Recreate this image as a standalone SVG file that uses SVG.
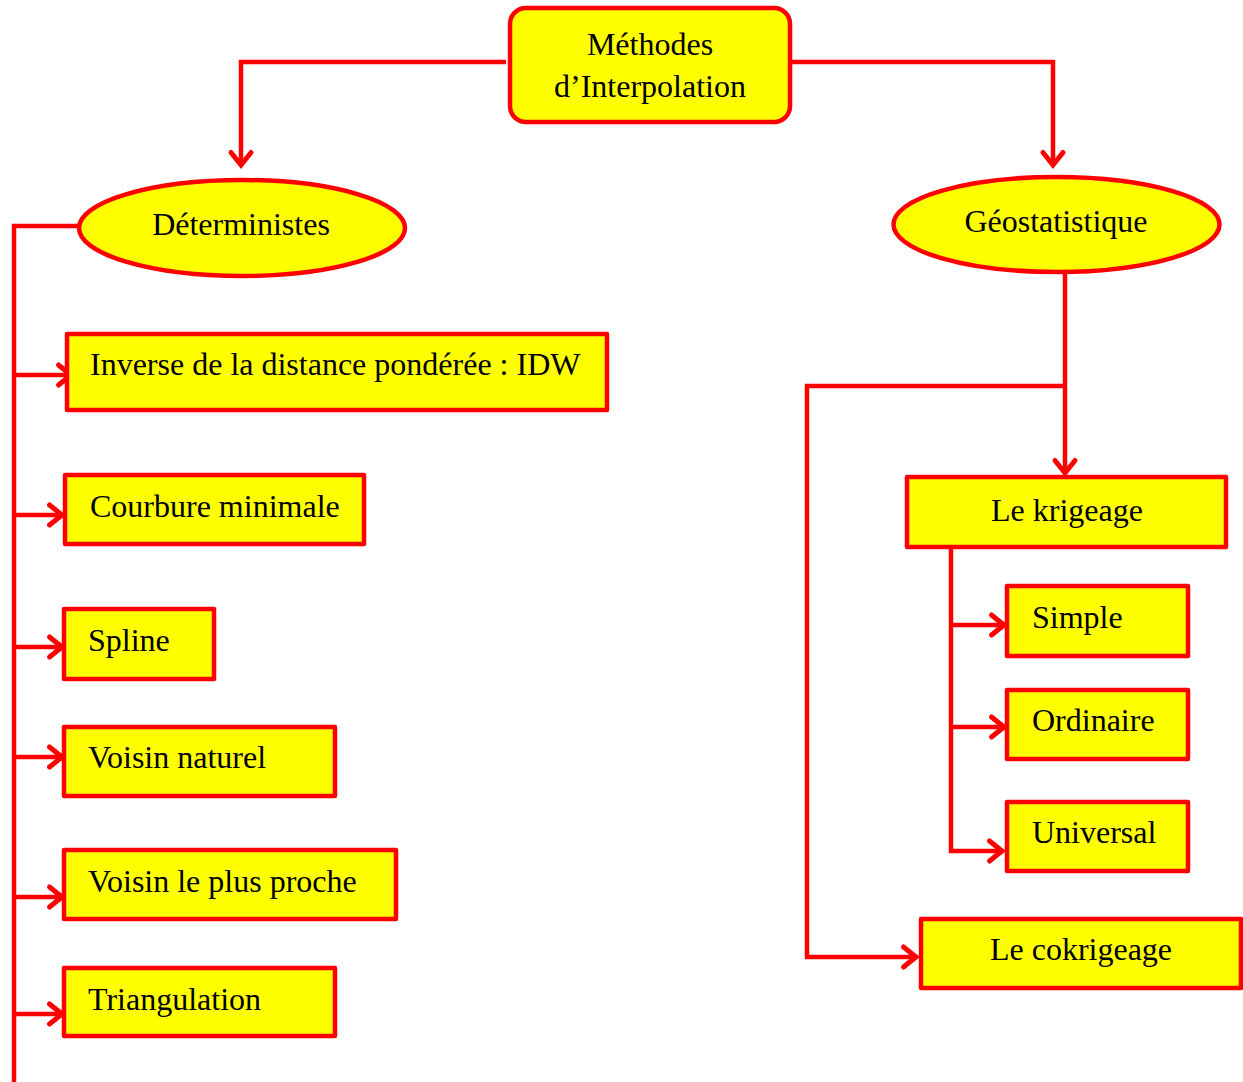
<svg xmlns="http://www.w3.org/2000/svg" width="1243" height="1082" viewBox="0 0 1243 1082">
<style>
.box{fill:#ffff00;stroke:#ff0000;stroke-width:4.5;stroke-linejoin:round}
.ln{fill:none;stroke:#ff0000;stroke-width:4.5}
.t{font-family:"Liberation Serif","Times New Roman",serif;font-size:32px;fill:#000}
.c{text-anchor:middle}
</style>
<defs>
<marker id="ar" markerUnits="userSpaceOnUse" viewBox="-18 -18 36 36" markerWidth="36" markerHeight="36" refX="0" refY="0" orient="auto">
<path d="M-12.5,-10 L0,0 L-12.5,10" fill="none" stroke="#ff0000" stroke-width="5" stroke-linecap="round" stroke-linejoin="miter"/>
</marker>
</defs>
<rect width="1243" height="1082" fill="#ffffff"/>
<g id="connectors">
<path class="ln" d="M506,62 H241 V165" marker-end="url(#ar)"/>
<path class="ln" d="M792,62 H1053 V165" marker-end="url(#ar)"/>
<path class="ln" d="M80,226 H14 V1082"/>
<path class="ln" d="M14,375 H71" marker-end="url(#ar)"/>
<path class="ln" d="M14,515 H62" marker-end="url(#ar)"/>
<path class="ln" d="M14,647 H62" marker-end="url(#ar)"/>
<path class="ln" d="M14,757 H62" marker-end="url(#ar)"/>
<path class="ln" d="M14,897 H62" marker-end="url(#ar)"/>
<path class="ln" d="M14,1014 H62" marker-end="url(#ar)"/>
<path class="ln" d="M1065,272 V473" marker-end="url(#ar)"/>
<path class="ln" d="M1065,386 H807 V957 H916" marker-end="url(#ar)"/>
<path class="ln" d="M951,547 V851 H1002" marker-end="url(#ar)"/>
<path class="ln" d="M951,625 H1004" marker-end="url(#ar)"/>
<path class="ln" d="M951,727 H1004" marker-end="url(#ar)"/>
</g>
<g id="methodes">
<rect class="box" x="510" y="8" width="280" height="114" rx="16"/>
<text class="t c" x="650" y="55">Méthodes</text>
<text class="t c" x="650" y="97">d’Interpolation</text>
</g>
<g id="deterministes">
<ellipse class="box" cx="242" cy="228" rx="163" ry="48"/>
<text class="t c" x="241" y="235">Déterministes</text>
</g>
<g id="geostatistique">
<ellipse class="box" cx="1056.5" cy="224.5" rx="163" ry="47.5"/>
<text class="t c" x="1056" y="232">Géostatistique</text>
</g>
<g id="idw">
<rect class="box" x="67" y="334" width="540" height="76"/>
<text class="t" x="90" y="375">Inverse de la distance pondérée : IDW</text>
</g>
<g id="courbure">
<rect class="box" x="65" y="475" width="299" height="69"/>
<text class="t" x="90" y="517">Courbure minimale</text>
</g>
<g id="spline">
<rect class="box" x="64" y="609" width="150" height="70"/>
<text class="t" x="88" y="651">Spline</text>
</g>
<g id="voisin-naturel">
<rect class="box" x="64" y="727" width="271" height="69"/>
<text class="t" x="88" y="768">Voisin naturel</text>
</g>
<g id="voisin-proche">
<rect class="box" x="64" y="850" width="332" height="69"/>
<text class="t" x="88" y="892">Voisin le plus proche</text>
</g>
<g id="triangulation">
<rect class="box" x="64" y="968" width="271" height="68"/>
<text class="t" x="88" y="1010">Triangulation</text>
</g>
<g id="krigeage">
<rect class="box" x="907" y="477" width="319" height="70"/>
<text class="t c" x="1067" y="521">Le krigeage</text>
</g>
<g id="simple">
<rect class="box" x="1007" y="586" width="181" height="70"/>
<text class="t" x="1032" y="628">Simple</text>
</g>
<g id="ordinaire">
<rect class="box" x="1007" y="690" width="181" height="69"/>
<text class="t" x="1032" y="731">Ordinaire</text>
</g>
<g id="universal">
<rect class="box" x="1007" y="802" width="181" height="69"/>
<text class="t" x="1032" y="843">Universal</text>
</g>
<g id="cokrigeage">
<rect class="box" x="921" y="919" width="320" height="69"/>
<text class="t c" x="1081" y="960">Le cokrigeage</text>
</g>
</svg>
